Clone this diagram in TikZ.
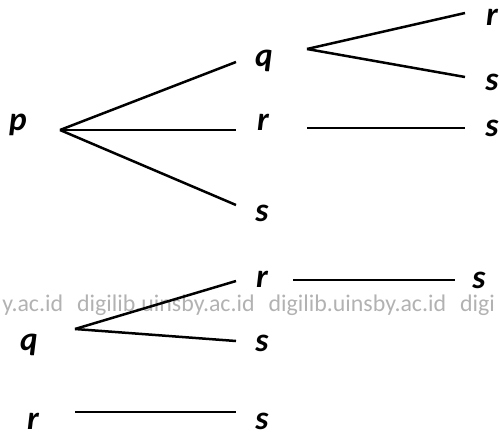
\documentclass[tikz,border=0pt]{standalone}
\usepackage{fontspec}
\setmainfont{Carlito}

\begin{document}
\begin{tikzpicture}[x=0.02cm, y=-0.02cm, line width=0.05cm,
    lbl/.style={font=\fontsize{19}{22}\selectfont\bfseries\itshape, inner sep=0pt},
    wmark/.style={text=black!30, font=\fontsize{13.6}{16}\selectfont, inner sep=0pt, anchor=base west}]

    \useasboundingbox (0,0) rectangle (499,436);

    % Watermark strip
    \node[wmark] (wm) at (1,311) {y.ac.id\hspace{8pt}digilib.uinsby.ac.id\hspace{8pt}digilib.uinsby.ac.id\hspace{8pt}digi};

    % Tree from p: labels
    \node[lbl] (p) at (18,125) {p};
    \node[lbl] (pq) at (264,61) {q};
    \node[lbl] (pr) at (263,122) {r};
    \node[lbl] (ps) at (262,213) {s};
    \node[lbl] (pqr) at (492,17) {r};
    \node[lbl] (pqs) at (492,82) {s};
    \node[lbl] (prs) at (492,128) {s};

    % Tree from p: branch ends
    \coordinate (p-o) at (60,130);
    \coordinate (pq-i) at (236,62);
    \coordinate (pr-i) at (236,130);
    \coordinate (ps-i) at (236,205);
    \coordinate (pq-o) at (307,49);
    \coordinate (pqr-i) at (465,13);
    \coordinate (pqs-i) at (465,77);
    \coordinate (pr-o) at (307,128);
    \coordinate (prs-i) at (465,128);

    \draw (p-o) -- (pq-i);
    \draw (p-o) -- (pr-i);
    \draw (p-o) -- (ps-i);
    \draw (pq-o) -- (pqr-i);
    \draw (pq-o) -- (pqs-i);
    \draw (pr-o) -- (prs-i);

    % Tree from q
    \node[lbl] (q) at (29,345) {q};
    \node[lbl] (qr) at (262,279) {r};
    \node[lbl] (qs) at (262,343) {s};
    \node[lbl] (qrs) at (479,280) {s};

    \coordinate (q-o) at (75,329);
    \coordinate (qr-i) at (236,281);
    \coordinate (qs-i) at (236,341);
    \coordinate (qr-o) at (293,280);
    \coordinate (qrs-i) at (455,280);

    \draw (q-o) -- (qr-i);
    \draw (q-o) -- (qs-i);
    \draw (qr-o) -- (qrs-i);

    % Tree from r
    \node[lbl] (r) at (33,421) {r};
    \node[lbl] (rs) at (262,421) {s};

    \coordinate (r-o) at (75,412);
    \coordinate (rs-i) at (236,412);

    \draw (r-o) -- (rs-i);

\end{tikzpicture}
\end{document}
